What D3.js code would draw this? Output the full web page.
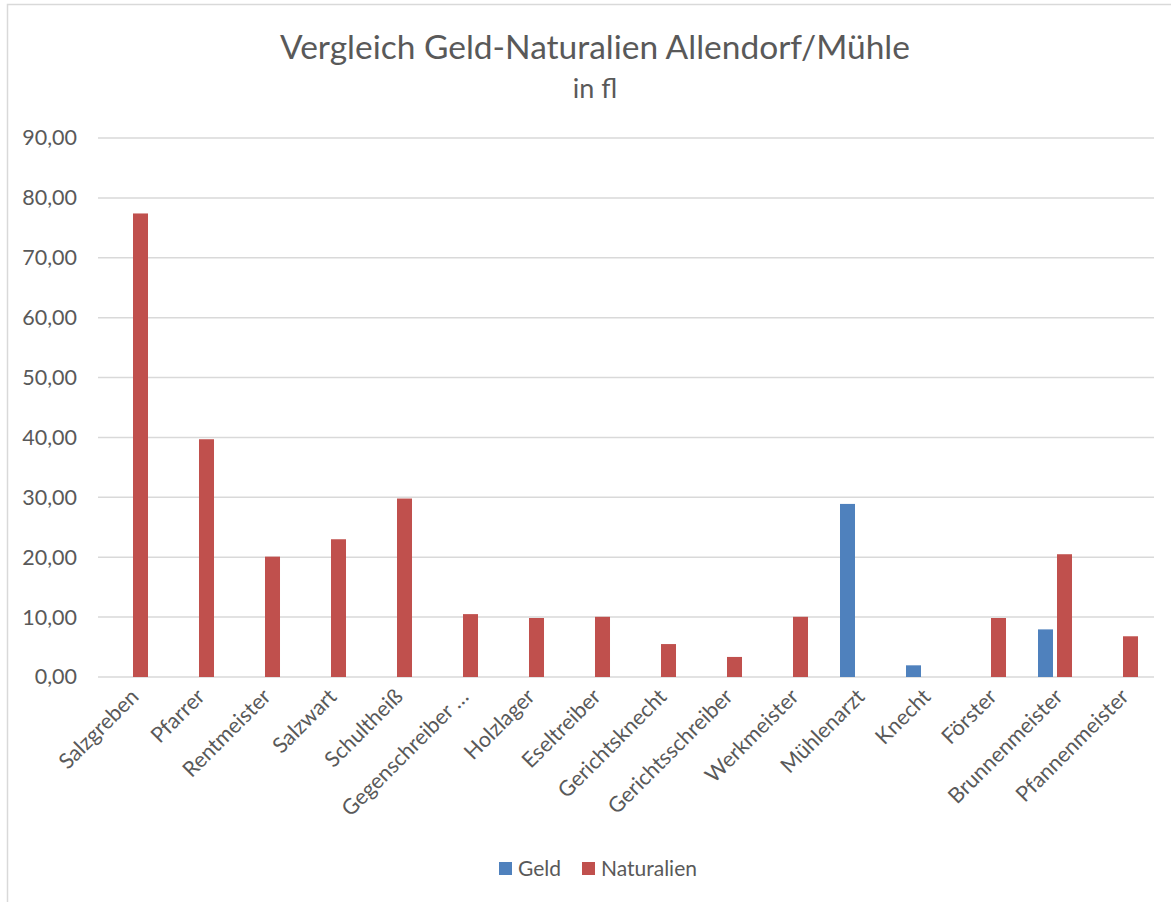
<!DOCTYPE html>
<html><head><meta charset="utf-8">
<script src="https://cdn.jsdelivr.net/npm/d3@7"></script>
<style>body{margin:0;background:#fff}svg{display:block}text{font-family:Lato,"Open Sans",sans-serif;fill:#595959}</style>
</head><body>
<svg id="c" width="1171" height="902"></svg>
<script>
const categories = ["Salzgreben","Pfarrer","Rentmeister","Salzwart","Schultheiß","Gegenschreiber …","Holzlager","Eseltreiber","Gerichtsknecht","Gerichtsschreiber","Werkmeister","Mühlenarzt","Knecht","Förster","Brunnenmeister","Pfannenmeister"];
const seriesNames = ["Geld","Naturalien"];
const geld =       [null,null,null,null,null,null,null,null,null,null,null,28.9,1.95,null,7.95,null];
const naturalien = [77.4,39.7,20.1,23.0,29.8,10.5,9.85,10.05,5.5,3.35,10.05,null,null,9.85,20.5,6.8];
const yTicks = [0,10,20,30,40,50,60,70,80,90];
const colors = {"Geld":"#4F81BD","Naturalien":"#C0504D"};

const svg = d3.select("#c");
// chart frame
svg.append("rect").attr("x",7.5).attr("y",4.5).attr("width",1180).attr("height",920)
  .attr("fill","none").attr("stroke","#D9D9D9").attr("stroke-width",1.5);

const x0 = d3.scaleBand().domain(categories).range([98,1154]).padding(0);
const x1 = d3.scaleBand().domain(seriesNames).range([0,x0.bandwidth()]).paddingInner(0.21).paddingOuter(0.842);
const y = d3.scaleLinear().domain([0,90]).range([677,138]);

// gridlines
svg.append("g").selectAll("line").data(yTicks).join("line")
  .attr("x1",98).attr("x2",1154).attr("y1",d=>y(d)).attr("y2",d=>y(d))
  .attr("stroke","#D9D9D9").attr("stroke-width",1.5);

// y axis labels
const fmt = d=>d3.format(".2f")(d).replace(".",",");
const yAxis = d3.axisLeft(y).tickValues(yTicks).tickFormat(fmt).tickSize(0).tickPadding(0);
const gy = svg.append("g").attr("transform","translate(77,0)").call(yAxis);
gy.select(".domain").remove();
gy.selectAll("text").style("font-size","21.5px").attr("fill","#595959").style("font-family","Lato");

// bars
const rows = categories.map((c,i)=>({cat:c, Geld:geld[i], Naturalien:naturalien[i]}));
const g = svg.append("g");
rows.forEach(r=>{
  seriesNames.forEach(s=>{
    if(r[s]==null) return;
    g.append("rect").attr("x",x0(r.cat)+x1(s)).attr("width",x1.bandwidth())
      .attr("y",y(r[s])).attr("height",y(0)-y(r[s])).attr("fill",colors[s]);
  });
});

// x axis labels
const xAxis = d3.axisBottom(x0).tickSize(0).tickPadding(0);
const gx = svg.append("g").attr("transform","translate(0,677)").call(xAxis);
gx.select(".domain").remove();
gx.selectAll("text").style("font-size","21.5px").style("font-family","Lato").attr("fill","#595959")
  .attr("text-anchor","end").attr("dy",null).attr("y",0)
  .attr("transform","translate(9,21) rotate(-45)");

// title
svg.append("text").attr("x",595).attr("y",59).attr("text-anchor","middle")
  .style("font-size","33.5px").text("Vergleich Geld-Naturalien Allendorf/Mühle");
svg.append("text").attr("x",595).attr("y",98).attr("text-anchor","middle")
  .style("font-size","27px").text("in fl");

// legend
const leg = svg.append("g");
const legX = [499,582];
seriesNames.forEach((s,i)=>{
  leg.append("rect").attr("x",legX[i]).attr("y",862).attr("width",13).attr("height",13).attr("fill",colors[s]);
  leg.append("text").attr("x",legX[i]+19).attr("y",876).style("font-size","21px").text(s);
});
</script>
</body></html>
